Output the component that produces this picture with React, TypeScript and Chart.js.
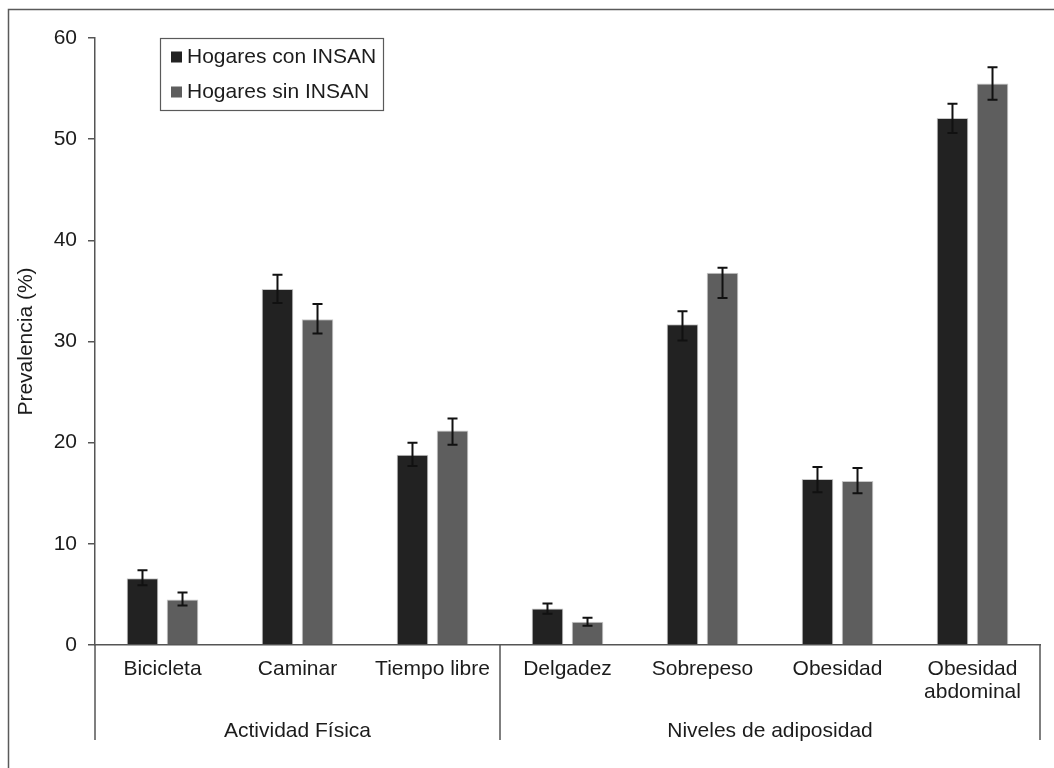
import React, { useEffect, useRef } from "react";
import { Chart, registerables } from "chart.js";

Chart.register(...registerables);

const categories: (string | string[])[] = [
  "Bicicleta",
  "Caminar",
  "Tiempo libre",
  "Delgadez",
  "Sobrepeso",
  "Obesidad",
  ["Obesidad", "abdominal"],
];
const seriesNames = ["Hogares con INSAN", "Hogares sin INSAN"];
const conInsan = [6.6, 35.2, 18.8, 3.6, 31.7, 16.4, 52.1];
const conLow = [5.9, 33.8, 17.7, 3.1, 30.1, 15.1, 50.6];
const conHigh = [7.4, 36.6, 20.0, 4.1, 33.0, 17.6, 53.5];
const sinInsan = [4.5, 32.2, 21.2, 2.3, 36.8, 16.2, 55.5];
const sinLow = [3.9, 30.8, 19.8, 1.9, 34.3, 15.0, 53.9];
const sinHigh = [5.2, 33.7, 22.4, 2.7, 37.3, 17.5, 57.1];
const groupLabels = ["Actividad Física", "Niveles de adiposidad"];
const groupSizes = [3, 4];
const yTicks = [0, 10, 20, 30, 40, 50, 60];
const yTitle = "Prevalencia (%)";

const FONT = "'Liberation Sans', Arial, sans-serif";
const TEXT = "#1c1c1c";
const LINE = "#555555";
const colors = ["#222222", "#5e5e5e"];
const lows = [conLow, sinLow];
const highs = [conHigh, sinHigh];

const decorPlugin = {
  id: "decor",
  afterDatasetsDraw(chart: any) {
    const { ctx } = chart;
    const x = chart.scales.x;
    const y = chart.scales.y;
    // error bars
    ctx.save();
    ctx.strokeStyle = "#111111";
    ctx.lineWidth = 2;
    chart.data.datasets.forEach((ds: any, di: number) => {
      const meta = chart.getDatasetMeta(di);
      meta.data.forEach((bar: any, i: number) => {
        const yl = y.getPixelForValue(lows[di][i]);
        const yh = y.getPixelForValue(highs[di][i]);
        const bx = bar.x;
        ctx.beginPath();
        ctx.moveTo(bx, yl);
        ctx.lineTo(bx, yh);
        ctx.moveTo(bx - 5, yl);
        ctx.lineTo(bx + 5, yl);
        ctx.moveTo(bx - 5, yh);
        ctx.lineTo(bx + 5, yh);
        ctx.stroke();
      });
    });
    ctx.restore();
  },
  afterDraw(chart: any) {
    const { ctx } = chart;
    const x = chart.scales.x;
    const ca = chart.chartArea;
    ctx.save();
    // outer frame (top & left)
    ctx.strokeStyle = "#5a5a5a";
    ctx.lineWidth = 1.5;
    ctx.beginPath();
    ctx.moveTo(8.5, chart.height);
    ctx.lineTo(8.5, 9.5);
    ctx.lineTo(chart.width, 9.5);
    ctx.stroke();

    // group separators and labels
    ctx.strokeStyle = LINE;
    ctx.lineWidth = 1.5;
    const step = x.getPixelForValue(1) - x.getPixelForValue(0);
    let start = 0;
    const bounds: number[] = [ca.left];
    groupSizes.forEach((n) => {
      start += n;
      bounds.push(x.getPixelForValue(start - 1) + step / 2);
    });
    bounds[bounds.length - 1] = ca.right;
    ctx.beginPath();
    bounds.forEach((b) => {
      ctx.moveTo(b, ca.bottom);
      ctx.lineTo(b, ca.bottom + 95);
    });
    ctx.stroke();
    ctx.fillStyle = TEXT;
    ctx.font = `21px ${FONT}`;
    ctx.textAlign = "center";
    ctx.textBaseline = "middle";
    groupLabels.forEach((g, gi) => {
      ctx.fillText(g, (bounds[gi] + bounds[gi + 1]) / 2, ca.bottom + 86);
    });

    // legend
    ctx.strokeStyle = "#5a5a5a";
    ctx.lineWidth = 1.2;
    ctx.strokeRect(160.5, 38.5, 223, 72);
    ctx.textAlign = "left";
    chart.data.datasets.forEach((ds: any, di: number) => {
      const cy = 57 + di * 35;
      ctx.fillStyle = ds.backgroundColor;
      ctx.fillRect(171, cy - 5.5, 11, 11);
      ctx.fillStyle = TEXT;
      ctx.fillText(ds.label, 187, cy);
    });
    ctx.restore();
  },
};

export default function App() {
  const ref = useRef<HTMLCanvasElement | null>(null);
  useEffect(() => {
    document.body.style.margin = "0";
    const canvas = ref.current!;
    const chart = new Chart(canvas, {
      type: "bar",
      data: {
        labels: categories as any,
        datasets: [
          {
            label: seriesNames[0],
            data: conInsan,
            backgroundColor: colors[0],
            borderColor: "#c8c8c8",
            borderWidth: 1,
            categoryPercentage: 0.593,
            barPercentage: 0.79,
          },
          {
            label: seriesNames[1],
            data: sinInsan,
            backgroundColor: colors[1],
            borderColor: "#c8c8c8",
            borderWidth: 1,
            categoryPercentage: 0.593,
            barPercentage: 0.79,
          },
        ],
      },
      options: {
        responsive: false,
        animation: false,
        devicePixelRatio: 1,
        layout: { padding: { left: 8, right: 14, top: 38, bottom: 0 } },
        plugins: {
          legend: { display: false },
          tooltip: { enabled: false },
        },
        scales: {
          x: {
            grid: { display: false, drawTicks: false },
            border: { display: true, color: LINE, width: 1.5 },
            ticks: {
              color: TEXT,
              font: { family: FONT, size: 21, lineHeight: 1.07 },
              padding: 13,
              maxRotation: 0,
              autoSkip: false,
            },
            afterFit: (s: any) => {
              s.height = 123;
            },
          },
          y: {
            min: 0,
            max: 60,
            afterBuildTicks: (s: any) => {
              s.ticks = yTicks.map((v) => ({ value: v }));
            },
            grid: {
              drawOnChartArea: false,
              drawTicks: true,
              tickLength: 7,
              color: LINE,
              lineWidth: 1.5,
            },
            border: { display: true, color: LINE, width: 1.5 },
            ticks: {
              color: TEXT,
              font: { family: FONT, size: 21 },
              padding: 11,
            },
            title: {
              display: true,
              text: yTitle,
              color: TEXT,
              font: { family: FONT, size: 21 },
              padding: { top: 5.4, bottom: 0 },
            },
            afterFit: (s: any) => {
              s.width = 87;
            },
          },
        },
      },
      plugins: [decorPlugin],
    });
    return () => chart.destroy();
  }, []);
  return (
    <canvas
      ref={ref}
      width={1054}
      height={768}
      style={{ display: "block", width: 1054, height: 768 }}
    />
  );
}
